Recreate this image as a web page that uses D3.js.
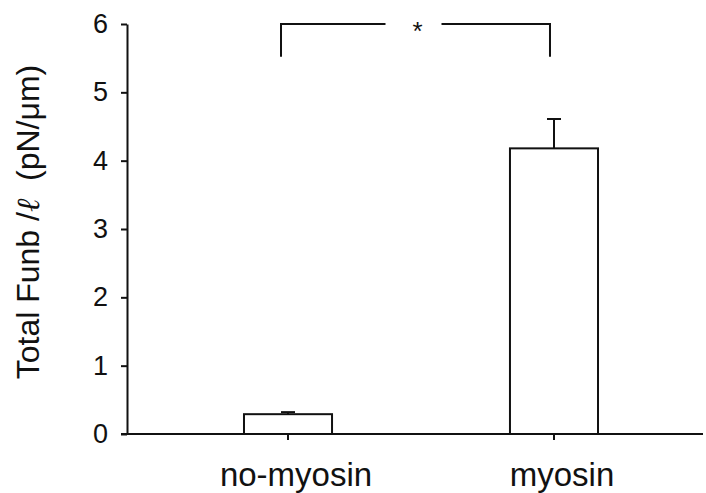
<!DOCTYPE html>
<html>
<head>
<meta charset="utf-8">
<script src="https://cdn.jsdelivr.net/npm/d3@7"></script>
<style>
  body { margin: 0; background: #fff; }
  svg { display: block; font-family: "Liberation Sans", Arial, sans-serif; }
</style>
</head>
<body>
<div id="chart"></div>
<script>
var categories = ["no-myosin", "myosin"];
var means = [0.29, 4.18];
var errors = [0.03, 0.43];
var yTicks = [0, 1, 2, 3, 4, 5, 6];
var bracket = { from: "no-myosin", to: "myosin", top: 6.0, leg: 5.52, label: "*" };

var W = 706, H = 493;
var svg = d3.select("#chart").append("svg").attr("width", W).attr("height", H);

var y = d3.scaleLinear().domain([0, 6]).range([434, 24]);
var x = d3.scaleBand().domain(categories).range([111, 731])
  .paddingInner(0.669).paddingOuter(0.5);

var ink = "#111";
var font = "Liberation Sans, Arial, sans-serif";

// y axis
var yAxis = svg.append("g").attr("transform", "translate(127,0)")
  .call(d3.axisLeft(y).tickValues(yTicks).tickFormat(d3.format("d")).tickSize(6).tickSizeOuter(0).tickPadding(13));
yAxis.select(".domain").attr("stroke", ink).attr("stroke-width", 2);
yAxis.selectAll(".tick line").attr("stroke", ink).attr("stroke-width", 2);
yAxis.selectAll(".tick text").attr("font-size", 27).attr("fill", ink).attr("font-family", font);

// x axis
var xAxis = svg.append("g").attr("transform", "translate(0,434)")
  .call(d3.axisBottom(x).tickSize(6).tickSizeOuter(0).tickPadding(23));
xAxis.select(".domain").remove();
xAxis.selectAll(".tick line").attr("stroke", ink).attr("stroke-width", 2);
xAxis.selectAll(".tick text").attr("font-size", 33).attr("fill", ink).attr("font-family", font)
  .attr("dx", 8);
svg.append("line").attr("x1", 121).attr("x2", 703).attr("y1", y(0)).attr("y2", y(0))
  .attr("stroke", ink).attr("stroke-width", 2);

// error bars (drawn before bars)
var eb = svg.append("g").selectAll("g").data(categories).enter().append("g");
eb.append("line")
  .attr("x1", function(d){ return x(d) + x.bandwidth()/2; })
  .attr("x2", function(d){ return x(d) + x.bandwidth()/2; })
  .attr("y1", function(d, i){ return y(means[i]); })
  .attr("y2", function(d, i){ return y(means[i] + errors[i]); })
  .attr("stroke", ink).attr("stroke-width", 2);
eb.append("line")
  .attr("x1", function(d){ return x(d) + x.bandwidth()/2 - 7; })
  .attr("x2", function(d){ return x(d) + x.bandwidth()/2 + 7; })
  .attr("y1", function(d, i){ return y(means[i] + errors[i]); })
  .attr("y2", function(d, i){ return y(means[i] + errors[i]); })
  .attr("stroke", ink).attr("stroke-width", 2);

// bars
svg.append("g").selectAll("rect").data(categories).enter().append("rect")
  .attr("x", function(d){ return x(d); })
  .attr("y", function(d, i){ return y(means[i]); })
  .attr("width", x.bandwidth())
  .attr("height", function(d, i){ return y(0) - y(means[i]); })
  .attr("fill", "#fff").attr("stroke", ink).attr("stroke-width", 2);

// significance bracket
var bx1 = x(bracket.from) + x.bandwidth()/2 - 7;
var bx2 = x(bracket.to) + x.bandwidth()/2 - 4;
var bmid = (bx1 + bx2) / 2;
var br = svg.append("g").attr("fill", "none").attr("stroke", ink).attr("stroke-width", 2);
br.append("path").attr("d", "M" + bx1 + "," + y(bracket.leg) + "V" + y(bracket.top) + "H" + (bmid - 30));
br.append("path").attr("d", "M" + (bmid + 26) + "," + y(bracket.top) + "H" + bx2 + "V" + y(bracket.leg));
svg.append("text").attr("x", bmid + 2).attr("y", y(bracket.top) + 16)
  .attr("text-anchor", "middle").attr("font-size", 26).attr("fill", ink).text(bracket.label);

// y title
var t = svg.append("text").attr("transform", "translate(39,222) rotate(-90)")
  .attr("text-anchor", "middle").attr("font-size", 32).attr("fill", ink);
t.append("tspan").text("Total Funb /");
t.append("tspan").attr("font-style", "italic").attr("font-family", "DejaVu Serif, serif").text("\u2113");
t.append("tspan").text("\u00a0 (pN/\u03bcm)");
</script>
</body>
</html>
